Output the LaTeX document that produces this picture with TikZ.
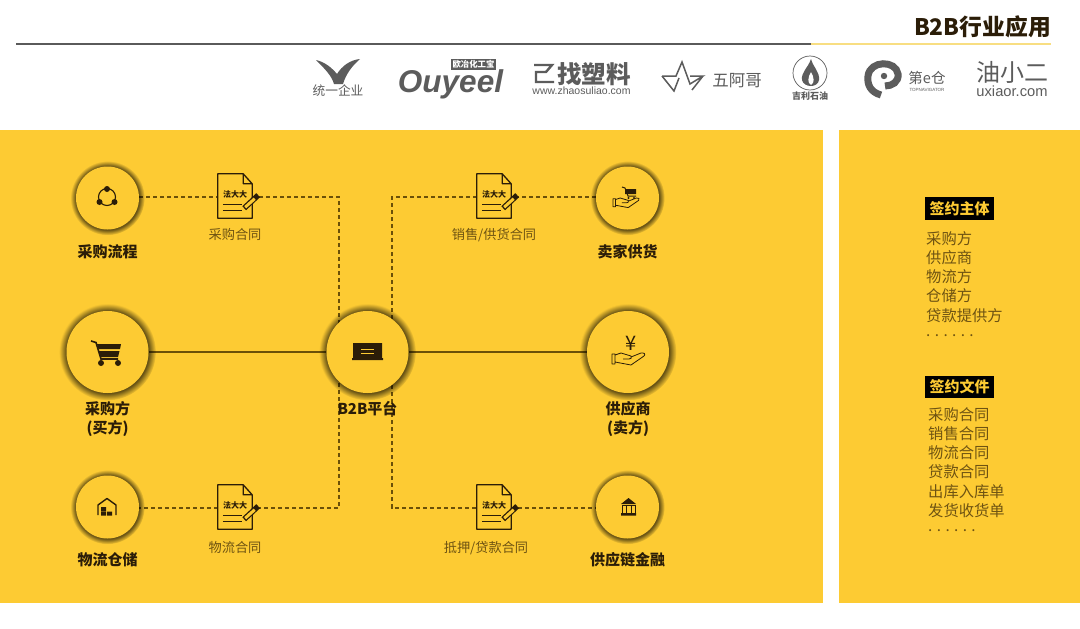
\documentclass[tikz,border=0pt]{standalone}
\usepackage{fontspec}
\setmainfont{Noto Sans CJK SC}
\newfontfamily\latinfont{Liberation Sans}
\usepackage{xcolor}
\usetikzlibrary{positioning, shadows, backgrounds}
\definecolor{panel}{HTML}{FDCB33}
\definecolor{ink}{HTML}{2B1D08}
\definecolor{soft}{HTML}{6E5312}
\definecolor{wire}{HTML}{6B5008}
\definecolor{logo}{HTML}{5C5C5C}
\definecolor{rulegrey}{HTML}{5A5A5A}
\definecolor{ruleyellow}{HTML}{F8DE82}
\tikzset{
  disc/.style={circle, fill=panel, inner sep=0pt, minimum size=#1,
               circular drop shadow={shadow xshift=0pt, shadow yshift=0pt,
               shadow scale=1.18, fill=black, opacity=0.6}},
  head/.style={font=\bfseries\fontsize{15}{19}\selectfont, text=ink, align=center, inner sep=0pt},
  deal/.style={font=\fontsize{13.2}{16}\selectfont, text=soft, inner sep=0pt},
  tag/.style={fill=black, text=panel, font=\bfseries\fontsize{15}{18}\selectfont,
              minimum width=69pt, minimum height=22.5pt, inner sep=0pt},
  roster/.style={font=\fontsize{15.3}{19.25}\selectfont, text=soft, align=left,
                 inner sep=0pt, anchor=north west},
  docbox/.style={rectangle, fill=panel, inner sep=0pt, minimum width=34pt,
                 minimum height=44pt, font=\bfseries\fontsize{8}{8}\selectfont, text=ink},
  solidwire/.style={draw=wire, line width=1.5pt},
  dashwire/.style={draw=wire, line width=1.1pt, dash pattern=on 4pt off 3pt},
  brand/.style={text=logo, inner sep=0pt},
  pics/hand/.style={code={
    \draw[ink, line width=0.8pt, line join=round]
      (0,1) -- (0,11) -- (3,11) -- (3,1) -- cycle
      (3,2) -- (9,0) -- (19,3) .. controls (20,5) and (19,6) .. (17,6) -- (11,6)
      (19,4) -- (29,0) .. controls (32,-0.5) and (34,1) .. (32,3) -- (19,12) -- (3,9);
  }},
}
\newcommand{\contractdoc}[2]{%
  \node[docbox] (#1) at (#2) {\raisebox{4pt}{法大大}};
  \draw[ink, line width=1.3pt, line join=round]
    (#1.south west) -- (#1.north west) -- ([xshift=-9pt]#1.north east)
    -- ([yshift=-10pt]#1.north east) -- (#1.south east) -- cycle
    ([xshift=-9pt]#1.north east) -- ([xshift=-9pt,yshift=-10pt]#1.north east)
    -- ([yshift=-10pt]#1.north east);
  \draw[ink, line width=0.8pt]
    ([xshift=5pt,yshift=14pt]#1.south west) -- ([xshift=24pt,yshift=14pt]#1.south west)
    ([xshift=5pt,yshift=8pt]#1.south west) -- ([xshift=24pt,yshift=8pt]#1.south west);
  \draw[ink, line width=5.5pt] ([xshift=-8pt,yshift=10pt]#1.south east) -- ([xshift=6pt,yshift=23pt]#1.south east);
  \draw[panel, line width=3pt] ([xshift=-7pt,yshift=11pt]#1.south east) -- ([xshift=2.5pt,yshift=19.5pt]#1.south east);
}
\newcommand{\rowdots}{.\hspace{4.4pt}.\hspace{4.4pt}.\hspace{4.4pt}.\hspace{4.4pt}.\hspace{4.4pt}.}
\begin{document}
\begin{tikzpicture}[x=1pt, y=-1pt]
  \useasboundingbox (0,0) rectangle (1080,629);

  % header
  \node[font=\bfseries\fontsize{22.8}{26}\selectfont, text=ink, anchor=east, inner sep=0pt] (title) at (1051,27) {B2B行业应用};
  \coordinate (ruleL) at (16,44);
  \coordinate (ruleM) at (811,44);
  \coordinate (ruleR) at (1051,44);
  \draw[rulegrey, line width=1.6pt] (ruleL) -- (ruleM);
  \draw[ruleyellow, line width=1.6pt] (ruleM) -- (ruleR);

  % logos
  \fill[logo] (316,60) .. controls (325,62) and (332,68) .. (337,74)
    .. controls (342,66) and (350,60) .. (360,59)
    .. controls (352,66) and (346,74) .. (343,84) -- (334,84)
    .. controls (332,76) and (324,68) .. (316,60) -- cycle;
  \node[brand, font=\fontsize{12.7}{14}\selectfont] (tongyi) at (338,91) {统一企业};
  \node[brand, font=\latinfont\bfseries\itshape\fontsize{31.5}{32}\selectfont] (ouyeel) at (450.5,84) {Ouyeel};
  \node[fill=logo, text=white, font=\bfseries\fontsize{8.4}{8.4}\selectfont, inner sep=1.2pt] (ouyeeltag) at (473.5,64.5) {欧冶化工宝};
  \draw[logo, line width=2.4pt] (534,65) -- (552,65) -- (546,72) -- (536,72) -- (536,82) -- (554,82);
  \node[brand, font=\bfseries\fontsize{24.5}{27}\selectfont, anchor=west] (zhaosuliao) at (557,74) {找塑料};
  \node[brand, font=\latinfont\fontsize{10.5}{12}\selectfont] (zhaourl) at (581.5,91) {www.zhaosuliao.com};
  \draw[logo, line width=1.5pt, line join=miter] (662,76) -- (676,76) -- (682,62) -- (690,84) -- (703,76) -- (690,76)
    (662,76) -- (674,91) -- (679,78) (692,90) -- (703,76);
  \node[brand, font=\fontsize{16.5}{18}\selectfont] (wuage) at (737,81) {五阿哥};
  \draw[logo, line width=0.7pt] (810,73) ellipse [x radius=17pt, y radius=17pt];
  \fill[logo] (811,59) .. controls (813,67) and (820,72) .. (819,80) .. controls (818,88) and (804,88) .. (802,80)
    .. controls (801,72) and (808,68) .. (811,59) -- cycle;
  \fill[white] (811,72) .. controls (814,77) and (815,83) .. (811,85) .. controls (807,83) and (808,77) .. (811,72) -- cycle;
  \node[brand, font=\bfseries\fontsize{9}{10}\selectfont] (jili) at (810,96) {吉利石油};
  \draw[logo, line width=7pt] (881,95) .. controls (870,92) and (867,84) .. (868,76)
    .. controls (870,60) and (896,60) .. (898,74) .. controls (899,82) and (892,86) .. (885,86);
  \fill[logo] (884,76) circle [radius=3.2pt];
  \node[brand, font=\fontsize{14.5}{16}\selectfont] (diecang) at (927,78) {第e仓};
  \node[brand, font=\latinfont\fontsize{4.5}{5}\selectfont] (diecangsub) at (927,90) {TOPNAVIGATOR};
  \node[brand, font=\fontsize{24}{26}\selectfont] (youxiaoer) at (1012,72) {油小二};
  \node[brand, font=\latinfont\fontsize{14.7}{15}\selectfont] (youurl) at (1012,91) {uxiaor.com};

  % panels
  \begin{pgfonlayer}{background}
    \fill[white] (0,0) rectangle (1080,629);
    \fill[panel] (0,130) rectangle (823,603);
    \fill[panel] (839,130) rectangle (1080,603);
  \end{pgfonlayer}

  % circles
  \node[disc=63pt] (flow) at (107.5,198) {};
  \node[disc=63pt] (seller) at (627.5,198) {};
  \node[disc=82pt] (buyer) at (107.5,352) {};
  \node[disc=82pt] (hub) at (367.5,352) {};
  \node[disc=82pt] (supplier) at (628,352) {};
  \node[disc=63pt] (store) at (107.5,507) {};
  \node[disc=63pt] (finance) at (627.5,507) {};

  % contracts
  \contractdoc{docbuy}{235,196}
  \contractdoc{docsale}{494,196}
  \contractdoc{docstore}{235,507}
  \contractdoc{docloan}{494,507}

  % labels
  \node[head, below=15pt of flow] (flowtxt) {采购流程};
  \node[head, below=15pt of seller] (sellertxt) {卖家供货};
  \node[head, below=8pt of buyer] (buyertxt) {采购方\\(买方)};
  \node[head, below=8pt of hub] (hubtxt) {B2B平台};
  \node[head, below=8pt of supplier] (suppliertxt) {供应商\\(卖方)};
  \node[head, below=14pt of store] (storetxt) {物流仓储};
  \node[head, below=14pt of finance] (financetxt) {供应链金融};
  \node[deal, below=10pt of docbuy] (docbuytxt) {采购合同};
  \node[deal, below=10pt of docsale] (docsaletxt) {销售/供货合同};
  \node[deal, below=12pt of docstore] (docstoretxt) {物流合同};
  \node[deal, below=12pt of docloan, xshift=-8pt] (docloantxt) {抵押/贷款合同};

  % connectors
  \coordinate (nw) at (339,197);
  \coordinate (sw) at (339,508);
  \coordinate (ne) at (392,197);
  \coordinate (se) at (392,508);
  \begin{pgfonlayer}{background}
    \draw[solidwire] (buyer) -- (hub);
    \draw[solidwire] (hub) -- (supplier);
    \draw[dashwire] (flow.east |- nw) -- (nw -| docbuy.west);
    \draw[dashwire] (nw -| docbuy.east) -- (nw) -- (sw) -- (sw -| docstore.east);
    \draw[dashwire] (sw -| docstore.west) -- (sw -| store.east);
    \draw[dashwire] (seller.west |- ne) -- (ne -| docsale.east);
    \draw[dashwire] (ne -| docsale.west) -- (ne) -- (se) -- (se -| docloan.west);
    \draw[dashwire] (se -| docloan.east) -- (se -| finance.west);
  \end{pgfonlayer}

  % icons
  \draw[ink, line width=1.1pt] (107,197) circle [radius=8.5pt];
  \fill[ink] (107,189) circle [radius=3pt] (99.5,202) circle [radius=3pt] (114.5,202) circle [radius=3pt];

  \draw[ink, line width=1.6pt] (91,341) -- (96,342.5) -- (101,359) -- (118,359);
  \fill[ink] (97,344) -- (121,344) -- (120,349) -- (98.5,349) -- cycle
             (99,351) -- (119.5,351) -- (118,357) -- (100.5,357) -- cycle
             (101,363) circle [radius=3pt] (118,363) circle [radius=3pt];

  \fill[ink] (353,343) rectangle (382,358) (352,358) rectangle (383,360);
  \draw[panel, line width=0.7pt] (361,349) -- (374,349) (361,353) -- (374,353);

  \node[text=ink, font=\fontsize{20}{22}\selectfont, inner sep=0pt] (yen) at (631,343) {¥};
  \pic at (612,353) {hand};
  \pic[scale=0.8, transform shape] at (613,198) {hand};
  \draw[ink, line width=1pt] (622,187) -- (625,188) -- (628,196) -- (636,196);
  \fill[ink] (625,189) rectangle (636,194) (628.5,198) circle [radius=1.2pt] (634,198) circle [radius=1.2pt];

  \draw[ink, line width=1.4pt, line join=round] (98,515) -- (98,505) -- (107,498.5) -- (116,505) -- (116,515);
  \fill[ink] (101,507) rectangle (106,511) (101,511.5) rectangle (106,515.5) (107,511.5) rectangle (112,515.5);

  \fill[ink] (628.5,498) -- (636,504) -- (621,504) -- cycle (621,513) rectangle (636,515.5);
  \draw[ink, line width=1pt] (622,505) rectangle (635,513) (626,505) -- (626,513) (631,505) -- (631,513);

  % side panel
  \node[tag] (tagparty) at (959.5,208.5) {签约主体};
  \node[roster] (rosterparty) at (926,231) {采购方\\供应商\\物流方\\仓储方\\贷款提供方\\[-4pt]\rowdots};
  \node[tag] (tagfile) at (959.5,387) {签约文件};
  \node[roster] (rosterfile) at (928,407) {采购合同\\销售合同\\物流合同\\贷款合同\\出库入库单\\发货收货单\\[-4pt]\rowdots};
\end{tikzpicture}
\end{document}
